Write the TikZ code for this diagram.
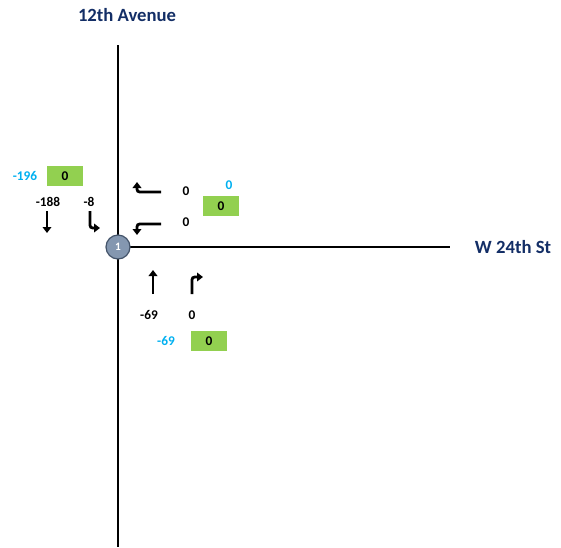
\documentclass[tikz,border=0pt]{standalone}
\usepackage{fontspec}
\setmainfont{Carlito}
\usetikzlibrary{arrows.meta, positioning}
\definecolor{roadBlue}{HTML}{132E66}
\definecolor{volCyan}{HTML}{00B0F0}
\definecolor{boxGreen}{HTML}{92D050}
\definecolor{nodeGray}{HTML}{8497B0}
\definecolor{nodeEdge}{HTML}{44546A}

\begin{document}
\begin{tikzpicture}[
        x=0.75pt, y=-0.75pt,
        road/.style={font=\bfseries\fontsize{14}{16}\selectfont, text=roadBlue},
        vol/.style={font=\bfseries\fontsize{10}{12}\selectfont, inner sep=0pt},
        volc/.style={vol, text=volCyan},
        gbox/.style={vol, fill=boxGreen, minimum width=26.5pt, minimum height=14.5pt},
        mv/.style={line width=2.1pt, -{Triangle[length=4.5pt, width=6.5pt]}, rounded corners=2pt}
      ]
        \useasboundingbox (0,0) rectangle (561,547);

        % Roads
        \coordinate (avN) at (118,45);
        \coordinate (avS) at (118,547);
        \coordinate (ctr) at (118,247);
        \coordinate (stE) at (450,247);
        \draw[line width=0.8pt] (avN) -- (avS);
        \draw[line width=0.8pt] (ctr) -- (stE);
        \node[road] (ave) at (127,15) {12th Avenue};
        \node[road] (st) at (513,247) {W 24th St};

        % Intersection
        \node[circle, fill=nodeGray, draw=nodeEdge, line width=0.9pt, minimum size=18pt, inner sep=0pt,
              text=white, font=\bfseries\fontsize{8.5}{9}\selectfont] (n1) at (ctr) {1};

        % Southbound approach
        \node[volc] (sbTot) at (25,176) {-196};
        \node[gbox] (sbBox) at (65,176) {0};
        \node[vol] (sbT) at (48,202) {-188};
        \node[vol] (sbR) at (89,202) {-8};
        \draw[mv] (47,211) -- (47,233);
        \draw[mv] (90,211) -- (90,228) -- (100,228);

        % Westbound approach
        \node[vol] (wbR) at (186,191) {0};
        \node[vol] (wbL) at (186,222) {0};
        \node[volc] (wbTot) at (229,185) {0};
        \node[gbox, minimum width=27.5pt] (wbBox) at (221,206) {0};
        \draw[mv] (161,192) -- (137,192) -- (137,182);
        \draw[mv] (161,224) -- (137,224) -- (137,235);

        % Northbound approach
        \node[vol] (nbT) at (149,315) {-69};
        \node[vol] (nbR) at (192,315) {0};
        \node[volc] (nbTot) at (166,341) {-69};
        \node[gbox] (nbBox) at (209,341) {0};
        \draw[mv] (153,294) -- (153,270);
        \draw[mv] (192,294) -- (192,277) -- (203,277);
      \end{tikzpicture}
\end{document}
